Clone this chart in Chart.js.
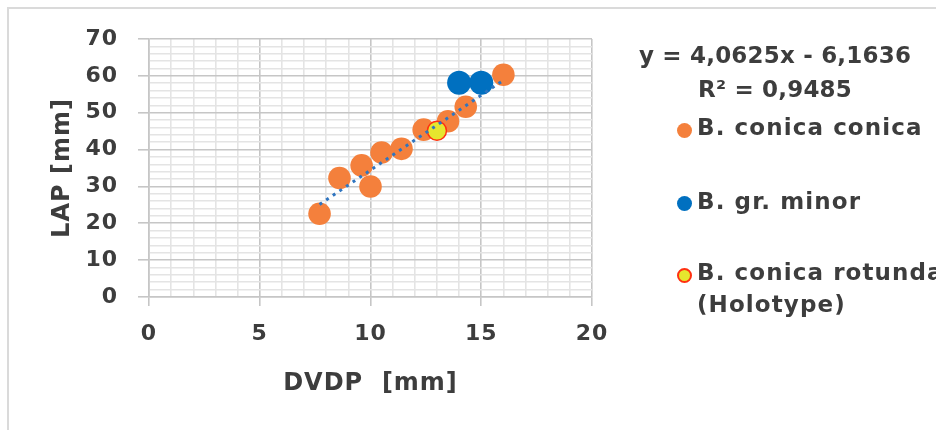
<!DOCTYPE html>
<html>
<head>
<meta charset="utf-8">
<script src="https://cdn.jsdelivr.net/npm/chart.js@4.4.1/dist/chart.umd.min.js"></script>
<style>
  html, body { margin: 0; padding: 0; background: #ffffff; }
  #wrap { position: relative; width: 936px; height: 430px; overflow: hidden; background: #ffffff; }
  #frame { position: absolute; left: 7px; top: 7px; width: 1000px; height: 500px; border: 2px solid #dadada; box-sizing: border-box; }
  canvas { position: absolute; left: 0; top: 0; }
  .t { position: absolute; font-family: "DejaVu Sans", sans-serif; font-weight: bold; font-size: 23px; line-height: 23px; color: #3d3d3d; white-space: nowrap; letter-spacing: 0.2px; }
  .lg { letter-spacing: 1.1px; }
  .m { position: absolute; width: 15px; height: 15px; border-radius: 50%; box-sizing: border-box; }
</style>
</head>
<body>
<div id="wrap">
  <div id="frame"></div>
  <canvas id="c" width="936" height="430"></canvas>
  <div class="t" id="eq" style="left:615px; width:320px; top:44px; text-align:center;"></div>
  <div class="t" id="r2" style="left:615px; width:320px; top:78px; text-align:center;"></div>
  <div class="m" style="left:677px; top:123px; background:#F4803C;"></div>
  <div class="t lg" id="l0" style="left:697px; top:116px;"></div>
  <div class="m" style="left:677px; top:196px; background:#0070C0;"></div>
  <div class="t lg" id="l1" style="left:697px; top:190px;"></div>
  <div class="m" style="left:677px; top:268px; background:#E6E62E; border:2px solid #FF3010;"></div>
  <div class="t lg" id="l2" style="left:697px; top:261px;"></div>
  <div class="t lg" id="l3" style="left:697px; top:293px;"></div>
</div>
<script>
// ---- data ----
const conicaX  = [7.7, 8.6, 9.6, 10.0, 10.5, 11.4, 12.4, 13.5, 14.3, 16.0];
const conicaY  = [22.6, 32.3, 35.7, 30.0, 39.2, 40.2, 45.4, 47.7, 51.6, 60.3];
const minorX   = [14.0, 15.0];
const minorY   = [58.1, 58.1];
const rotundaX = [13.0];
const rotundaY = [45.1];
const trendX   = [7.7, 16.0];
const trendY   = [25.1, 58.8];
const seriesNames = ["B. conica conica", "B. gr. minor", "B. conica rotunda", "(Holotype)"];
const equationText = "y = 4,0625x - 6,1636";
const r2Text = "R\u00B2 = 0,9485";
const xTitle = "DVDP  [mm]";
const yTitle = "LAP [mm]";
const xTickLabels = [0, 5, 10, 15, 20];
const yTickLabels = [0, 10, 20, 30, 40, 50, 60, 70];

document.getElementById('eq').textContent = equationText;
document.getElementById('r2').textContent = r2Text;
document.getElementById('l0').textContent = seriesNames[0];
document.getElementById('l1').textContent = seriesNames[1];
document.getElementById('l2').textContent = seriesNames[2];
document.getElementById('l3').textContent = seriesNames[3];

const pts = (xs, ys) => xs.map((x, i) => ({x: x, y: ys[i]}));

const MAJOR = '#c6c6c6';
const MINOR = '#e4e4e4';
const TXT = '#3d3d3d';
const FONT = "'DejaVu Sans', sans-serif";

const spacingPlugin = {
  id: 'spacing',
  beforeDraw(chart) { chart.ctx.letterSpacing = '1px'; }
};

new Chart(document.getElementById('c'), {
  type: 'scatter',
  data: {
    datasets: [
      { label: 'trend', type: 'line', data: pts(trendX, trendY), borderColor: '#2F75C0', borderWidth: 3,
        borderDash: [3, 5], borderCapStyle: 'butt', pointRadius: 0, fill: false, order: 0 },
      { label: seriesNames[2], data: pts(rotundaX, rotundaY), backgroundColor: '#E6E62E', borderColor: '#FF3010',
        borderWidth: 1.5, pointRadius: 9.5, order: 1 },
      { label: seriesNames[1], data: pts(minorX, minorY), backgroundColor: '#0070C0', borderWidth: 0,
        pointRadius: 12, order: 2 },
      { label: seriesNames[0], data: pts(conicaX, conicaY), backgroundColor: '#F4803C', borderWidth: 0,
        pointRadius: 11.3, order: 3 }
    ]
  },
  options: {
    responsive: false,
    animation: false,
    events: [],
    layout: { padding: { left: 0, top: 39, right: 344, bottom: 0 } },
    plugins: { legend: { display: false }, tooltip: { enabled: false } },
    scales: {
      x: {
        type: 'linear', min: 0, max: 20,
        afterFit(s) { s.height = 133; },
        ticks: {
          stepSize: 1, autoSkip: false, maxRotation: 0, padding: 15,
          color: TXT, font: { family: FONT, weight: 'bold', size: 22 },
          callback: v => xTickLabels.includes(v) ? String(v) : ''
        },
        grid: {
          lineWidth: 1.6, tickLength: 9,
          color: c => (c.tick && c.tick.value % 5 === 0) ? MAJOR : MINOR,
          tickColor: c => (c.tick && c.tick.value % 5 === 0) ? MAJOR : 'rgba(0,0,0,0)'
        },
        border: { color: MAJOR, width: 1.6 },
        title: { display: true, text: xTitle, color: TXT, padding: { top: 0, bottom: 32 },
                 font: { family: FONT, weight: 'bold', size: 24 } }
      },
      y: {
        type: 'linear', min: 0, max: 70,
        afterFit(s) { s.width = 149; },
        ticks: {
          stepSize: 2, autoSkip: false, padding: 20,
          color: TXT, font: { family: FONT, weight: 'bold', size: 22 },
          callback: v => yTickLabels.includes(v) ? String(v) : ''
        },
        grid: {
          lineWidth: 1.6, tickLength: 11,
          color: c => (c.tick && c.tick.value % 10 === 0) ? MAJOR : MINOR,
          tickColor: c => (c.tick && c.tick.value % 10 === 0) ? MAJOR : 'rgba(0,0,0,0)'
        },
        border: { color: MAJOR, width: 1.6 },
        title: { display: true, text: yTitle, color: TXT, padding: { top: 48, bottom: 0 },
                 font: { family: FONT, weight: 'bold', size: 24 } }
      }
    }
  },
  plugins: [spacingPlugin]
});
</script>
</body>
</html>
